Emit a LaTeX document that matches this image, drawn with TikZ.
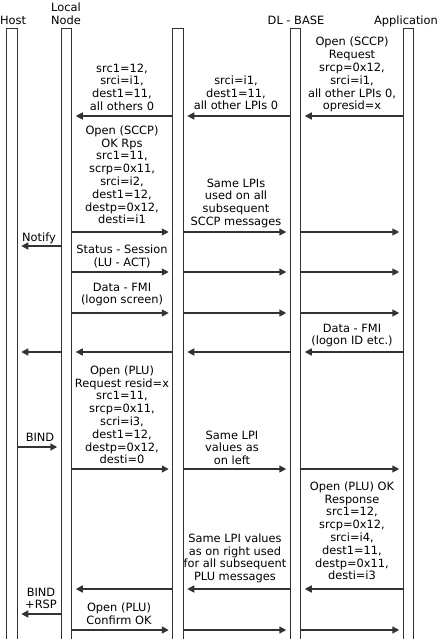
\documentclass[tikz,border=0pt]{standalone}
\usepackage{fontspec}
\setmainfont{DejaVu Sans}
\usetikzlibrary{arrows.meta}
\begin{document}
\begin{tikzpicture}[x=1pt,y=-1pt,
  bar/.style={draw=black!80, line width=1pt, fill=white, minimum width=10.5pt, minimum height=613pt, inner sep=0pt, anchor=north},
  lbl/.style={align=center, inner sep=0pt, anchor=north, text=black, font=\fontsize{11.4}{12.8}\selectfont, execute at begin node=\strut},
  msg/.style={draw=black!80, line width=1.5pt, -{Triangle[length=7pt,width=7pt]}, shorten >=3.5pt}]
\useasboundingbox (0,0) rectangle (439,639);
% lifelines
\node[bar] (host) at (12,28) {};
\node[bar] (loc) at (66.5,28) {};
\node[bar] (mid) at (178,28) {};
\node[bar] (dl) at (295.5,28) {};
\node[bar] (app) at (408.5,28) {};
% headers
\node[lbl] (thost) at (13,15.5) {Host};
\node[lbl] (tloc) at (66,2.5) {Local\\Node};
\node[lbl] (tdl) at (296,15.5) {DL - BASE};
\node[lbl] (tapp) at (406,15.5) {Application};
% labels
\node[lbl] (l1) at (352,37) {Open (SCCP)\\Request\\srcp=0x12,\\srci=i1,\\all other LPIs 0,\\opresid=x};
\node[lbl] (l2) at (236,75.5) {srci=i1,\\dest1=11,\\all other LPIs 0};
\node[lbl] (l3) at (122,63.5) {src1=12,\\srci=i1,\\dest1=11,\\all others 0};
\node[lbl] (l4) at (122,125.5) {Open (SCCP)\\OK Rps\\src1=11,\\scrp=0x11,\\srci=i2,\\dest1=12,\\destp=0x12,\\desti=i1};
\node[lbl] (l5) at (236,178.5) {Same LPIs\\used on all\\subsequent\\SCCP messages};
\node[lbl] (l6) at (39,232.5) {Notify};
\node[lbl] (l7) at (122,244.5) {Status - Session\\(LU - ACT)};
\node[lbl] (l8) at (122,282.5) {Data - FMI\\(logon screen)};
\node[lbl] (l9) at (352,323.5) {Data - FMI\\(logon ID etc.)};
\node[lbl] (l10) at (122,365.5) {Open (PLU)\\Request resid=x\\src1=11,\\srcp=0x11,\\scri=i3,\\dest1=12,\\destp=0x12,\\desti=0};
\node[lbl] (l11) at (232,430.5) {Same LPI\\values as\\on left};
\node[lbl] (l12) at (40,432.5) {BIND};
\node[lbl] (l13) at (352,481.5) {Open (PLU) OK\\Response\\src1=12,\\srcp=0x12,\\srci=i4,\\dest1=11,\\destp=0x11,\\desti=i3};
\node[lbl] (l14) at (235,533.5) {Same LPI values\\as on right used\\for all subsequent\\PLU messages};
\node[lbl] (l15) at (41,587.5) {BIND\\+RSP};
\node[lbl] (l16) at (119,602.5) {Open (PLU)\\Confirm OK};
% messages
\draw[msg] (app.west |- 0,116) -- (dl.east |- 0,116);
\draw[msg] (dl.west |- 0,116) -- (mid.east |- 0,116);
\draw[msg] (mid.west |- 0,116) -- (loc.east |- 0,116);
\foreach \yy in {232,272,313,469,630}{
  \draw[msg] (loc.east |- 0,\yy) -- (mid.west |- 0,\yy);
  \draw[msg] (mid.east |- 0,\yy) -- (dl.west |- 0,\yy);
  \draw[msg] (dl.east |- 0,\yy) -- (app.west |- 0,\yy);
}
\draw[msg] (loc.west |- 0,246) -- (host.east |- 0,246);
\draw[msg] (app.west |- 0,352) -- (dl.east |- 0,352);
\draw[msg] (dl.west |- 0,352) -- (mid.east |- 0,352);
\draw[msg] (mid.west |- 0,352) -- (loc.east |- 0,352);
\draw[msg] (loc.west |- 0,352) -- (host.east |- 0,352);
\draw[msg] (host.east |- 0,447) -- (loc.west |- 0,447);
\draw[msg] (app.west |- 0,589) -- (dl.east |- 0,589);
\draw[msg] (dl.west |- 0,589) -- (mid.east |- 0,589);
\draw[msg] (mid.west |- 0,589) -- (loc.east |- 0,589);
\draw[msg] (loc.west |- 0,614) -- (host.east |- 0,614);
\end{tikzpicture}
\end{document}
